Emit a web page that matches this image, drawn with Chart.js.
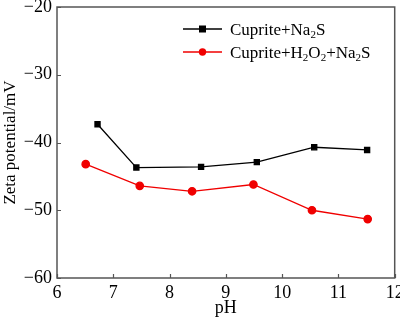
<!DOCTYPE html>
<html>
<head>
<meta charset="utf-8">
<script src="https://cdn.jsdelivr.net/npm/chart.js@4/dist/chart.umd.min.js"></script>
<style>
html,body{margin:0;padding:0;background:#fff;}
#wrap{width:400px;height:322px;position:relative;}
</style>
</head>
<body>
<div id="wrap"><canvas id="c" width="400" height="322"></canvas></div>
<script>
const seriesLabels = ['Cuprite+Na₂S', 'Cuprite+H₂O₂+Na₂S'];
const phNa2S = [6.72, 7.41, 8.56, 9.55, 10.57, 11.51];
const zetaNa2S = [-37.3, -43.7, -43.6, -42.9, -40.7, -41.1];
const phH2O2 = [6.51, 7.47, 8.40, 9.49, 10.53, 11.52];
const zetaH2O2 = [-43.2, -46.4, -47.2, -46.2, -50.0, -51.3];
const xTicks = [6, 7, 8, 9, 10, 11, 12];
const yTicks = [-60, -50, -40, -30, -20];
const xTitle = 'pH';
const yTitle = 'Zeta potential/mV';

const FONT = "'Liberation Serif', 'Times New Roman', serif";

function pts(xs, ys){ return xs.map((x,i)=>({x:x,y:ys[i]})); }

const framePlugin = {
  id:'frame',
  afterDatasetsDraw(chart){
    const ctx = chart.ctx, a = chart.chartArea;
    const xs = chart.scales.x, ys = chart.scales.y;
    ctx.save();
    ctx.strokeStyle = '#555';
    ctx.lineWidth = 1.5;
    ctx.strokeRect(a.left, a.top, a.right-a.left, a.bottom-a.top);
    ctx.lineWidth = 1.2;
    ctx.beginPath();
    xTicks.forEach(v=>{
      const px = Math.round(xs.getPixelForValue(v))+0.5;
      ctx.moveTo(px, a.bottom); ctx.lineTo(px, a.bottom-4);
    });
    yTicks.forEach(v=>{
      const py = Math.round(ys.getPixelForValue(v))+0.5;
      ctx.moveTo(a.left, py); ctx.lineTo(a.left+4, py);
    });
    ctx.stroke();

    // legend
    const lx0 = 183, lx1 = 222, tx = 230;
    const rows = [29, 52];
    chart.data.datasets.forEach((ds,i)=>{
      const y = rows[i];
      ctx.strokeStyle = ds.borderColor;
      ctx.lineWidth = ds.borderWidth;
      ctx.beginPath(); ctx.moveTo(lx0,y); ctx.lineTo(lx1,y); ctx.stroke();
      ctx.fillStyle = ds.pointBackgroundColor;
      const mx = (lx0+lx1)/2;
      if (ds.pointStyle === 'rect') {
        ctx.fillRect(mx-3.5, y-3.5, 7, 7);
      } else {
        ctx.beginPath(); ctx.arc(mx, y, 3.7, 0, Math.PI*2); ctx.fill();
      }
      ctx.fillStyle = '#000';
      ctx.textBaseline = 'alphabetic';
      ctx.textAlign = 'left';
      let x = tx;
      const base = y + 6;
      for (const ch of ds.label) {
        if (ch === '₂') {
          ctx.font = '11px ' + FONT;
          ctx.fillText('2', x, base + 3);
          x += ctx.measureText('2').width;
        } else {
          ctx.font = '17px ' + FONT;
          ctx.fillText(ch, x, base);
          x += ctx.measureText(ch).width;
        }
      }
    });
    ctx.restore();
  }
};

new Chart(document.getElementById('c'), {
  type: 'scatter',
  data: {
    datasets: [
      {
        label: seriesLabels[0],
        data: pts(phNa2S, zetaNa2S),
        showLine: true,
        borderColor: '#000',
        backgroundColor: '#000',
        pointBackgroundColor: '#000',
        pointBorderColor: '#000',
        pointStyle: 'rect',
        pointRadius: 3.6,
        borderWidth: 1.3
      },
      {
        label: seriesLabels[1],
        data: pts(phH2O2, zetaH2O2),
        showLine: true,
        borderColor: '#f00000',
        backgroundColor: '#f00000',
        pointBackgroundColor: '#f00000',
        pointBorderColor: '#f00000',
        pointStyle: 'circle',
        pointRadius: 3.7,
        borderWidth: 1.3
      }
    ]
  },
  options: {
    responsive: false,
    animation: false,
    layout: { padding: { left: 0, right: 5, top: 7, bottom: 0 } },
    plugins: { legend: { display: false }, tooltip: { enabled: false } },
    scales: {
      x: {
        type: 'linear', min: 6, max: 12,
        afterBuildTicks(s){ s.ticks = xTicks.map(v=>({value:v})); },
        afterFit(s){ s.height = 44; s.paddingLeft = 0; s.paddingRight = 0; },
        grid: { display: false, drawTicks: false },
        border: { display: false },
        ticks: { color: '#000', font: { family: FONT, size: 18 }, padding: 4, maxRotation: 0 },
        title: { display: true, text: xTitle, color: '#000', font: { family: FONT, size: 18 }, padding: { top: 0, bottom: 3 } }
      },
      y: {
        type: 'linear', min: -60, max: -20,
        afterBuildTicks(s){ s.ticks = yTicks.map(v=>({value:v})); },
        afterFit(s){ s.width = 57; s.paddingTop = 0; s.paddingBottom = 0; },
        grid: { display: false, drawTicks: false },
        border: { display: false },
        ticks: { color: '#000', font: { family: FONT, size: 18 }, padding: 5,
          callback: v => String(v).replace('-', '\u2212') },
        title: { display: true, text: yTitle, color: '#000', font: { family: FONT, size: 17 }, padding: { top: 0, bottom: 0 } }
      }
    }
  },
  plugins: [framePlugin]
});
</script>
</body>
</html>
